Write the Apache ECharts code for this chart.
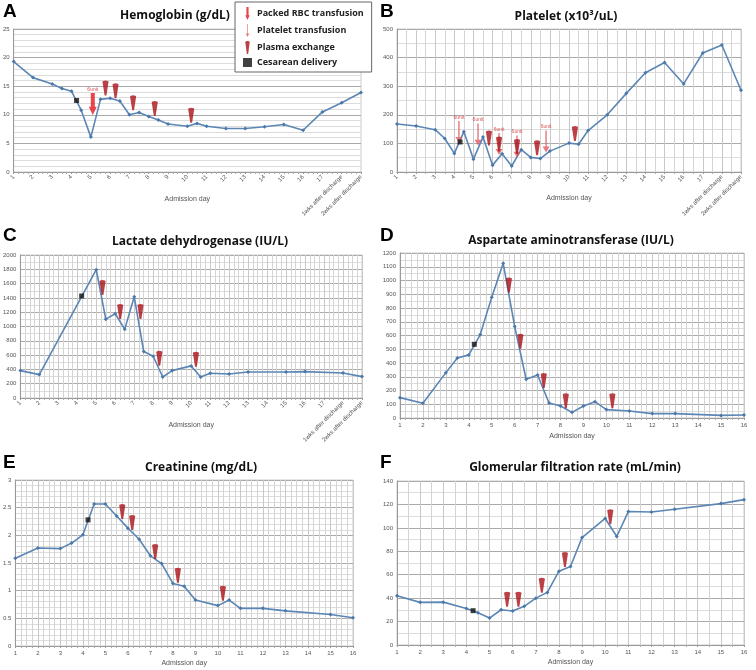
<!DOCTYPE html>
<html>
<head>
<meta charset="utf-8">
<script src="https://cdn.jsdelivr.net/npm/echarts@6/dist/echarts.min.js"></script>
<style>
html,body{margin:0;padding:0;background:#fff;}
#main{width:756px;height:670px;}
</style>
</head>
<body>
<div id="main"></div>
<script>
// x axis: days 1..17, then 18 = 1wks after discharge, 19 = 2wks after discharge
var afterLabels = ['1wks after discharge', '2wks after discharge'];

// A - hemoglobin
var hbDays = [1,2,3,3.5,4,4.5,5,5.5,6,6.5,7,7.5,8,8.5,9,10,10.5,11,12,13,14,15,16,17,18,19];
var hbValues = [19.3,16.5,15.4,14.6,14.1,10.8,6.1,12.7,12.9,12.4,10.0,10.4,9.7,9.1,8.4,8.0,8.5,8.0,7.6,7.6,7.9,8.3,7.3,10.5,12.1,13.9];
var hbPlasma = [[5.76,14.7],[6.28,14.2],[7.19,12.1],[8.31,11.1],[10.2,9.9]];
var hbRbc = [[5.1,11.9]];
var hbCesarean = [[4.26,12.5]];

// B - platelet
var pltDays = [1,2,3,3.5,4,4.5,5,5.5,6,6.5,7,7.5,8,8.5,9,10,10.5,11,12,13,14,15,16,17,18,19];
var pltValues = [168,161,148,117,65,141,45,122,24,64,21,78,51,47,73,101,97,145,200,275,347,383,308,416,444,286];
var pltPlasma = [[5.81,119],[6.34,98],[7.28,89],[8.33,85],[10.31,135]];
var pltTransfusion = [[4.24,140],[5.24,131],[6.34,98],[7.28,89],[8.8,107]];
var pltCesarean = [[4.3,105]];

// C - LDH
var ldhDays = [1,2,5,5.5,6,6.5,7,7.5,8,8.5,9,10,10.5,11,12,13,15,16,18,19];
var ldhValues = [383,327,1794,1103,1178,963,1416,650,584,294,383,449,294,346,336,364,364,369,350,299];
var ldhPlasma = [[5.33,1546],[6.26,1210],[7.33,1210],[8.32,557],[10.25,543]];
var ldhCesarean = [[4.23,1427]];

// D - AST
var astDays = [1,2,3,3.5,4,4.5,5,5.5,6,6.5,7,7.5,8,8.5,9,9.5,10,11,12,13,15,16];
var astValues = [148,107,330,437,459,607,879,1125,666,282,313,109,87,41,87,119,61,51,32,32,19,22];
var astPlasma = [[5.75,967],[6.25,558],[7.27,273],[8.23,125],[10.26,125]];
var astCesarean = [[4.24,536]];

// E - creatinine
var crDays = [1,2,3,3.5,4,4.5,5,5.5,6,6.5,7,7.5,8,8.5,9,10,10.5,11,12,13,15,16];
var crValues = [1.585,1.77,1.76,1.86,2.01,2.565,2.565,2.35,2.13,1.93,1.63,1.49,1.13,1.08,0.83,0.73,0.83,0.68,0.68,0.635,0.57,0.51];
var crPlasma = [[5.75,2.43],[6.19,2.23],[7.21,1.71],[8.22,1.28],[10.22,0.955]];
var crCesarean = [[4.23,2.28]];

// F - GFR
var gfrDays = [1,2,3,4,4.5,5,5.5,6,6.5,7,7.5,8,8.5,9,10,10.5,11,12,13,15,16];
var gfrValues = [42,36.4,36.6,31.2,27.5,23,30.1,29,33,40,44.9,63,67,91.7,108,92.6,113.9,113.6,115.9,120.7,124.1];
var gfrPlasma = [[5.76,39],[6.25,39],[7.26,51],[8.26,73],[10.22,109.5]];
var gfrCesarean = [[4.29,29.3]];

var wedgePath = 'path://M0,3 Q0,0 5,0 Q10,0 10,3 L6.5,30 L3.5,30 Z';
var rbcPath = 'path://M2.5,0 L7.5,0 L7.5,19 L10,19 L5,30 L0,19 L2.5,19 Z';
var pltPath = 'path://M4.2,0 L5.8,0 L5.8,22 L9,22 L5,30 L1,22 L4.2,22 Z';
var squarePath = 'path://M0,0 L10,0 L10,10 L0,10 Z';

var lineColor = '#5b86b5';
var grids = [], xAxes = [], yAxes = [], series = [], texts = [];

function zip(xs, ys){
    return xs.map(function(x, i){ return [x, ys[i]]; });
}

function addPanel(p){
    var k = grids.length;
    grids.push({left: p.left, top: p.top, width: p.width, height: p.height, show: true, borderColor: '#ccc', borderWidth: 1});
    xAxes.push({
        type: 'value', gridIndex: k, min: 1, max: p.xMax, interval: 1,
        name: 'Admission day', nameLocation: 'middle', nameGap: p.nameGap, nameMoveOverlap: false,
        nameTextStyle: {fontSize: 7, color: '#555', fontFamily: 'Liberation Sans'},
        axisLine: {show: true, lineStyle: {color: '#999'}},
        axisTick: {show: true, length: 2, lineStyle: {color: '#999'}},
        minorTick: {show: true, splitNumber: p.xMinor, length: 2, lineStyle: {color: '#aaa'}},
        axisLabel: {
            fontSize: 6, color: '#555', margin: 4, rotate: p.rotate, fontFamily: 'Liberation Sans',
            formatter: function(v){ return v <= 17 ? String(v) : afterLabels[v - 18]; }
        },
        splitLine: {show: p.xGrid, lineStyle: {color: '#c8c8c8'}},
        minorSplitLine: {show: p.xGrid, lineStyle: {color: '#d4d4d4'}}
    });
    yAxes.push({
        type: 'value', gridIndex: k, min: 0, max: p.yMax, interval: p.yStep,
        axisLine: {show: true, lineStyle: {color: '#999'}},
        axisTick: {show: false},
        minorTick: {show: false, splitNumber: p.yMinor},
        axisLabel: {fontSize: 6, color: '#555', margin: 4, fontFamily: 'Liberation Sans',
            formatter: function(v){ return String(v); }},
        splitLine: {lineStyle: {color: '#aaa'}},
        minorSplitLine: {show: true, lineStyle: {color: '#dcdcdc'}}
    });
    series.push({
        type: 'line', xAxisIndex: k, yAxisIndex: k, data: zip(p.days, p.values),
        symbol: 'diamond', symbolSize: 4, showSymbol: true,
        lineStyle: {color: lineColor, width: 1.6},
        itemStyle: {color: '#4a78aa'}, z: 3, silent: true
    });
    series.push({
        name: 'Plasma exchange', type: 'scatter', xAxisIndex: k, yAxisIndex: k, data: p.plasma,
        symbol: wedgePath, symbolSize: [6, 15], itemStyle: {color: '#aa1119'}, z: 5
    });
    series.push({
        name: 'Cesarean delivery', type: 'scatter', xAxisIndex: k, yAxisIndex: k, data: p.cesarean,
        symbol: squarePath, symbolSize: 5, itemStyle: {color: '#111'}, z: 6
    });
    texts.push({type: 'text', x: p.letter[1], y: p.letter[2], style: {text: p.letter[0], font: 'bold 19px "Liberation Sans"', fill: '#000'}});
    texts.push({type: 'text', x: p.title[1], y: p.title[2], style: {text: p.title[0], font: 'bold 12px "Open Sans"', fill: '#111', textAlign: 'center', textVerticalAlign: 'middle'}});
    return k;
}

var a = addPanel({left: 13, top: 29, width: 348, height: 143, xMax: 19, yMax: 25, yStep: 5, yMinor: 5, xMinor: 4, xGrid: false, rotate: 45, nameGap: 24,
    days: hbDays, values: hbValues, plasma: hbPlasma, cesarean: hbCesarean,
    letter: ['A', 3, 2], title: ['Hemoglobin (g/dL)', 175, 16]});
var b = addPanel({left: 397, top: 29, width: 344, height: 143, xMax: 19, yMax: 500, yStep: 100, yMinor: 2, xMinor: 2, xGrid: true, rotate: 45, nameGap: 23,
    days: pltDays, values: pltValues, plasma: pltPlasma, cesarean: pltCesarean,
    letter: ['B', 380, 2], title: ['Platelet (x10\u00b3/uL)', 566, 17]});
var c = addPanel({left: 20, top: 255, width: 342, height: 143, xMax: 19, yMax: 2000, yStep: 200, yMinor: 2, xMinor: 4, xGrid: true, rotate: 45, nameGap: 24,
    days: ldhDays, values: ldhValues, plasma: ldhPlasma, cesarean: ldhCesarean,
    letter: ['C', 3, 226], title: ['Lactate dehydrogenase (IU/L)', 200, 242]});
var d = addPanel({left: 400, top: 253, width: 344, height: 165, xMax: 16, yMax: 1200, yStep: 100, yMinor: 2, xMinor: 4, xGrid: true, rotate: 0, nameGap: 15,
    days: astDays, values: astValues, plasma: astPlasma, cesarean: astCesarean,
    letter: ['D', 380, 226], title: ['Aspartate aminotransferase (IU/L)', 571, 241]});
var e = addPanel({left: 15, top: 480, width: 338, height: 166, xMax: 16, yMax: 3, yStep: 0.5, yMinor: 5, xMinor: 4, xGrid: true, rotate: 0, nameGap: 14,
    days: crDays, values: crValues, plasma: crPlasma, cesarean: crCesarean,
    letter: ['E', 3, 453], title: ['Creatinine (mg/dL)', 201, 468]});
var f = addPanel({left: 397, top: 481, width: 347, height: 164, xMax: 16, yMax: 140, yStep: 20, yMinor: 2, xMinor: 2, xGrid: true, rotate: 0, nameGap: 14,
    days: gfrDays, values: gfrValues, plasma: gfrPlasma, cesarean: gfrCesarean,
    letter: ['F', 380, 453], title: ['Glomerular filtration rate (mL/min)', 575, 468]});

// transfusion arrows
var unitLabel = {show: true, position: 'top', distance: 1, fontSize: 5, color: '#d62728', formatter: '6unit'};
series.push({
    name: 'Packed RBC transfusion', type: 'scatter', xAxisIndex: a, yAxisIndex: a, data: hbRbc,
    symbol: rbcPath, symbolSize: [8, 22], itemStyle: {color: '#e3161d'}, label: unitLabel, z: 5
});
series.push({
    name: 'Platelet transfusion', type: 'scatter', xAxisIndex: b, yAxisIndex: b, data: pltTransfusion,
    symbol: pltPath, symbolSize: [7, 22], itemStyle: {color: '#e0585c'}, label: unitLabel, z: 4
});

var myChart = echarts.init(document.getElementById('main'), null, {renderer: 'canvas'});
var option = {
    animation: false,
    backgroundColor: '#fff',
    grid: grids,
    xAxis: xAxes,
    yAxis: yAxes,
    legend: {
        left: 235, top: 2, orient: 'vertical',
        padding: [5, 8, 5, 8], itemGap: 4, itemWidth: 9, itemHeight: 13,
        backgroundColor: '#fff', borderColor: '#666', borderWidth: 1,
        textStyle: {fontSize: 9, fontWeight: 'bold', color: '#222', fontFamily: 'Open Sans'},
        data: [
            {name: 'Packed RBC transfusion', icon: rbcPath},
            {name: 'Platelet transfusion', icon: pltPath},
            {name: 'Plasma exchange', icon: wedgePath},
            {name: 'Cesarean delivery', icon: squarePath}
        ],
        selectedMode: false
    },
    graphic: texts,
    series: series
};
myChart.setOption(option);
</script>
</body>
</html>
